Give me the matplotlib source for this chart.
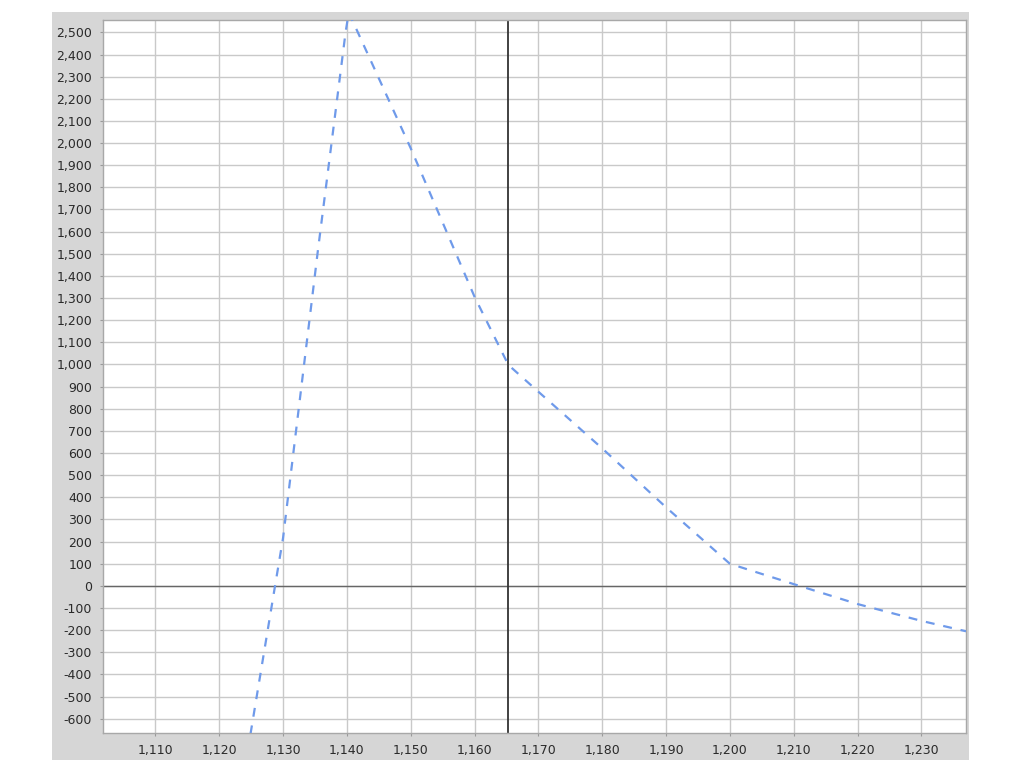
# === LIBS === #
import matplotlib
matplotlib.use('Agg')
from matplotlib import pyplot as plt
from matplotlib.patches import Rectangle
from matplotlib.ticker import FuncFormatter

# === DATA === #
price = [1124.9, 1128.75, 1130.0, 1133.3, 1135.4, 1137.6, 1139.8, 1140.3,
         1150.0, 1160.0, 1165.3, 1170.0, 1180.0, 1190.0, 1200.0,
         1210.0, 1220.0, 1230.0, 1237.0]
pnl = [-670, 0, 215, 1000, 1500, 2000, 2500, 2590,
       1977, 1306, 998, 877, 621, 355, 100,
       8, -82, -158, -205]
current_price = 1165.3   # vertical marker
x_ticks = list(range(1110, 1231, 10))
y_ticks = list(range(-600, 2501, 100))

# === STYLE === #
LineColor = '#6f9aea'
GridColor = '#c9c9c9'
FrameColor = '#d6d6d6'
FontSize = 9

fig = plt.figure(figsize=(10.24, 7.68), dpi=100)
fig.patch.set_facecolor('white')
# grey panel around the plot area
panel = Rectangle((0.0511, 0.0104), 0.8949, 0.9736, transform=fig.transFigure,
                  facecolor=FrameColor, edgecolor='none', zorder=-10)
fig.add_artist(panel)

ax = fig.add_axes([0.1009, 0.046, 0.8425, 0.928])
ax.set_zorder(1)
ax.set_facecolor('white')

ax.plot(price, pnl, color=LineColor, linewidth=1.6, linestyle=(0, (4, 4)), zorder=3)
ax.axhline(0, color='#666666', linewidth=1.0, zorder=2)
ax.axvline(current_price, color='#333333', linewidth=1.3, zorder=2)

ax.set_xlim(1101.85, 1237.0)
ax.set_ylim(-663, 2556)
ax.set_xticks(x_ticks)
ax.set_yticks(y_ticks)
fmt = FuncFormatter(lambda v, p: f'{int(round(v)):,}')
ax.xaxis.set_major_formatter(fmt)
ax.yaxis.set_major_formatter(fmt)
ax.tick_params(axis='both', labelsize=FontSize, length=2, color='#999999', labelcolor='#2a2a2a')
ax.tick_params(axis='y', pad=6)
ax.tick_params(axis='x', pad=6)

ax.grid(True, color=GridColor, linewidth=1.0, zorder=1)
ax.set_axisbelow(True)
for side in ['left', 'bottom', 'right', 'top']:
    ax.spines[side].set_color('#a8a8a8')
    ax.spines[side].set_linewidth(1.0)

fig.savefig('out.png', dpi=100)
